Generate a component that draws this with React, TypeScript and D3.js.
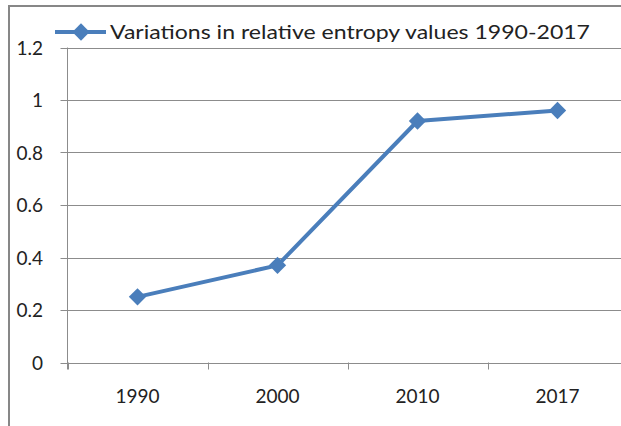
import React, { useRef, useEffect } from 'react';
import * as d3 from 'd3';

const years = ['1990', '2000', '2010', '2017'];
const entropy = [0.25, 0.37, 0.92, 0.96];
const yTicks = [0, 0.2, 0.4, 0.6, 0.8, 1, 1.2];
const seriesName = 'Variations in relative entropy values 1990-2017';

const W = 621;
const H = 426;

const App = () => {
  const ref = useRef<SVGSVGElement>(null);

  useEffect(() => {
    const svg = d3.select(ref.current);
    svg.selectAll('*').remove();

    const left = 67.5, right = 627.5, top = 47.5, bottom = 362.5;
    const font = 'Lato, "Open Sans", sans-serif';
    const grey = '#8c8c8c';
    const blue = '#4a7ebb';

    // chart frame
    svg.append('path')
      .attr('d', `M9,${H} L9,6 L${W},6`)
      .attr('fill', 'none')
      .attr('stroke', '#878787')
      .attr('stroke-width', 2);

    const x = d3.scaleBand().domain(years).range([left, right]);
    const y = d3.scaleLinear().domain([0, 1.2]).range([bottom, top]);

    // gridlines + y ticks
    svg.append('g').selectAll('line')
      .data(yTicks)
      .join('line')
      .attr('x1', left - 7)
      .attr('x2', right)
      .attr('y1', d => Math.round(y(d)) + 0.5)
      .attr('y2', d => Math.round(y(d)) + 0.5)
      .attr('stroke', grey)
      .attr('stroke-width', 1);

    svg.append('g').selectAll('text')
      .data(yTicks)
      .join('text')
      .attr('x', 43)
      .attr('y', d => y(d) + 7)
      .attr('text-anchor', 'end')
      .attr('font-family', font)
      .attr('font-size', 19)
      .attr('fill', '#222')
      .text(d => String(d));

    // y axis
    svg.append('line')
      .attr('x1', left).attr('x2', left)
      .attr('y1', top).attr('y2', bottom + 7)
      .attr('stroke', grey);

    // x category ticks
    svg.append('g').selectAll('line')
      .data(years)
      .join('line')
      .attr('x1', d => Math.round(x(d)!) + 0.5)
      .attr('x2', d => Math.round(x(d)!) + 0.5)
      .attr('y1', bottom)
      .attr('y2', bottom + 7)
      .attr('stroke', grey);

    svg.append('g').selectAll('text')
      .data(years)
      .join('text')
      .attr('x', d => x(d)! + x.bandwidth() / 2)
      .attr('y', 403)
      .attr('text-anchor', 'middle')
      .attr('font-family', font)
      .attr('font-size', 19)
      .attr('fill', '#222')
      .text(d => d);

    const pts = years.map((yr, i) => [x(yr)! + x.bandwidth() / 2, y(entropy[i])] as [number, number]);

    const line = d3.line();
    svg.append('path')
      .attr('d', line(pts))
      .attr('fill', 'none')
      .attr('stroke', blue)
      .attr('stroke-width', 4)
      .attr('stroke-linejoin', 'round');

    const diamond = d3.symbol().type(d3.symbolSquare).size(150);
    svg.append('g').selectAll('path')
      .data(pts)
      .join('path')
      .attr('transform', d => `translate(${d[0]},${d[1]}) rotate(45)`)
      .attr('d', diamond())
      .attr('fill', blue);

    // legend
    const lg = svg.append('g');
    lg.append('line')
      .attr('x1', 55).attr('x2', 106)
      .attr('y1', 32).attr('y2', 32)
      .attr('stroke', blue).attr('stroke-width', 4);
    lg.append('path')
      .attr('transform', 'translate(81,32) rotate(45)')
      .attr('d', diamond())
      .attr('fill', blue);
    lg.append('text')
      .attr('x', 110)
      .attr('y', 39)
      .attr('font-family', font)
      .attr('font-size', 20)
      .attr('fill', '#222')
      .attr('textLength', 480)
      .attr('lengthAdjust', 'spacingAndGlyphs')
      .text(seriesName);

    return () => {
      svg.selectAll('*').remove();
    };
  }, []);

  return (
    <div style={{ position: 'absolute', left: 0, top: 0, background: '#fff' }}>
      <svg ref={ref} width={W} height={H} style={{ display: 'block' }}></svg>
    </div>
  );
};

export default App;
